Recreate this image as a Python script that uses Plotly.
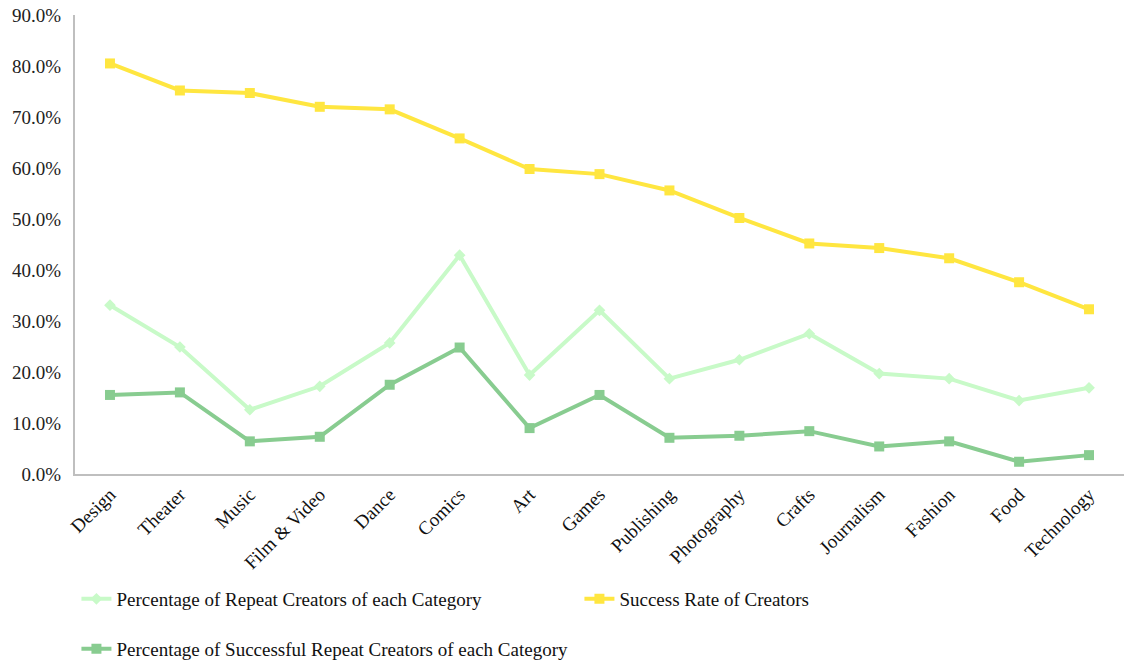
import plotly.graph_objects as go

categories = ["Design", "Theater", "Music", "Film & Video", "Dance", "Comics", "Art",
              "Games", "Publishing", "Photography", "Crafts", "Journalism", "Fashion",
              "Food", "Technology"]

repeat_pct = [0.331, 0.249, 0.126, 0.172, 0.257, 0.429, 0.194, 0.321, 0.187, 0.224,
              0.275, 0.197, 0.187, 0.144, 0.169]
success_rate = [0.805, 0.752, 0.747, 0.720, 0.715, 0.658, 0.598, 0.588, 0.556, 0.502,
                0.452, 0.443, 0.423, 0.376, 0.323]
successful_repeat_pct = [0.155, 0.160, 0.064, 0.073, 0.175, 0.248, 0.090, 0.155, 0.071,
                         0.075, 0.084, 0.054, 0.064, 0.024, 0.037]

FONT = "Liberation Serif"
FS = 19
C_LIGHT = "#c8fac8"
C_YELLOW = "#ffe640"
C_DARK = "#88cc90"

fig = go.Figure()
fig.add_trace(go.Scatter(
    x=categories, y=repeat_pct, mode="lines+markers",
    name="Percentage of Repeat Creators of each Category",
    line=dict(color=C_LIGHT, width=4),
    marker=dict(symbol="diamond", size=9, color=C_LIGHT),
    legend="legend",
))
fig.add_trace(go.Scatter(
    x=categories, y=success_rate, mode="lines+markers",
    name="Success Rate of Creators",
    line=dict(color=C_YELLOW, width=4),
    marker=dict(symbol="square", size=10, color=C_YELLOW),
    legend="legend",
))
fig.add_trace(go.Scatter(
    x=categories, y=successful_repeat_pct, mode="lines+markers",
    name="Percentage of Successful Repeat Creators of each Category",
    line=dict(color=C_DARK, width=4),
    marker=dict(symbol="square", size=10, color=C_DARK),
    legend="legend2",
))

legend_common = dict(
    orientation="h", xref="container", yref="container",
    xanchor="left", yanchor="middle",
    font=dict(family=FONT, size=FS, color="#111"),
    bgcolor="rgba(0,0,0,0)", itemwidth=30,
)

fig.update_layout(
    width=1124, height=664,
    margin=dict(l=75, r=0, t=15, b=190),
    paper_bgcolor="white", plot_bgcolor="white",
    font=dict(family=FONT, size=FS, color="#222"),
    showlegend=True,
    legend=dict(x=0.068, y=1 - 599 / 664, entrywidth=458, **legend_common),
    legend2=dict(x=0.068, y=1 - 649 / 664, **legend_common),
    xaxis=dict(
        type="category", tickangle=-45, showgrid=False, zeroline=False,
        showline=True, linecolor="#bfbfbf", linewidth=2, ticks="",
        tickfont=dict(family=FONT, size=FS, color="#111"),
        range=[-0.5, len(categories) - 0.5],
    ),
    yaxis=dict(
        range=[0, 0.9], dtick=0.1, tickformat=".1%", showgrid=False, zeroline=False,
        showline=True, linecolor="#bfbfbf", linewidth=2, ticks="",
        ticklabelstandoff=8,
        tickfont=dict(family=FONT, size=FS, color="#222"),
    ),
)

fig.write_html("out.html")
